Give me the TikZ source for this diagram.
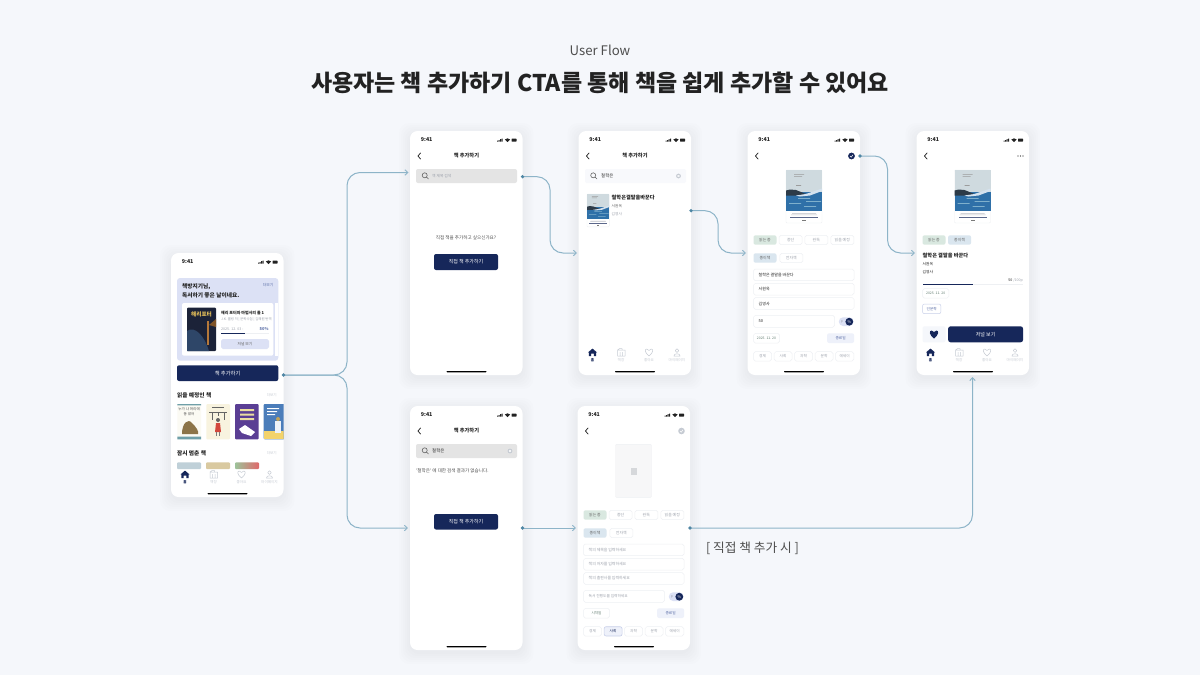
\documentclass[tikz,border=0pt]{standalone}
\usepackage{fontspec}
\setmainfont{Noto Sans CJK KR}
\usetikzlibrary{arrows.meta,calc}
\definecolor{bgc}{HTML}{F5F7FB}
\definecolor{navy}{HTML}{16275A}
\definecolor{ink}{HTML}{222222}
\definecolor{flowc}{HTML}{8DB4C8}
\definecolor{dotc}{HTML}{4F86A4}
\definecolor{mute}{HTML}{9EA3AD}
\definecolor{soft}{HTML}{C6CBD3}
\definecolor{peri}{HTML}{DCE1F5}
\definecolor{chipg}{HTML}{D9E8E0}
\definecolor{chipb}{HTML}{DAE6EF}
\definecolor{edgec}{HTML}{EEF0F3}
\definecolor{bluet}{HTML}{5C6FA8}
\definecolor{CoverSky}{HTML}{CFDADF}
\definecolor{CoverSea}{HTML}{2F70A8}
\definecolor{CoverDark}{HTML}{2D3B48}
\definecolor{CoverLight}{HTML}{7FB0CC}
\definecolor{datec}{HTML}{5E7A6E}
\definecolor{endfill}{HTML}{EEF1FA}
\definecolor{HarryD}{HTML}{1B2238}
\definecolor{HarryB}{HTML}{2E4668}
\definecolor{HarryO}{HTML}{B5783A}
\definecolor{HarryY}{HTML}{E8C25A}
\definecolor{Cream1}{HTML}{FBFAF3}
\definecolor{Teal1}{HTML}{6F9FA8}
\definecolor{Brown1}{HTML}{8C7448}
\definecolor{Cream2}{HTML}{F8F3DF}
\definecolor{Red2}{HTML}{D2473C}
\definecolor{Purple3}{HTML}{5A3E94}
\definecolor{Yellow3}{HTML}{EBDDA0}
\definecolor{Blue4}{HTML}{4B7DBA}
\definecolor{Yellow4}{HTML}{F3D36B}
\definecolor{Pale1}{HTML}{BFD0D8}
\definecolor{Pale2}{HTML}{D9C9A0}
\definecolor{Pale3a}{HTML}{9CC39A}
\definecolor{Pale3b}{HTML}{E0686A}
\definecolor{SearchG}{HTML}{E4E4E4}
\definecolor{CoverBlank}{HTML}{F7F7F8}
\tikzset{
  x=1pt,y=-1pt,
  card/.style={draw=none,fill=white,rounded corners=7.5pt,minimum width=112.5pt,minimum height=244pt,inner sep=0pt,outer sep=0pt,anchor=north west},
  flow/.style={draw=flowc,line width=1pt,rounded corners=13pt},
  flowa/.style={flow,-{Straight Barb[length=3pt,width=5.5pt,line width=.9pt]}},
  box/.style={fill=white,draw=edgec,line width=.5pt,rounded corners=1.8pt},
  icon/.style={draw=soft,line width=.5pt,line join=round},
}
\newcounter{tc}
% x y size colour anchor text
\newcommand{\tx}[6]{\stepcounter{tc}\node[inner sep=0pt,anchor=#5,text=#4,font=\fontsize{#3}{#3}\selectfont] (t\arabic{tc}) at (#1,#2) {#6};}
% x1 y1 x2 y2 style textcolour size text
\newcommand{\chipbox}[8]{\stepcounter{tc}\path[#5] (#1,#2) rectangle (#3,#4);\node[inner sep=0pt,text=#6,font=\fontsize{#7}{#7}\selectfont] (t\arabic{tc}) at ({(#1+#3)/2},{(#2+#4)/2}) {#8};}
\newcommand{\phone}[3]{%
  \foreach \e in {11,9,7,5,3,1}{\fill[black!60!blue,opacity=.006,rounded corners=10pt] ({#2-\e},{#3-\e+3}) rectangle ({#2+112.5+\e},{#3+244+\e+3});}
  \node[card] (#1) at (#2,#3) {};}
\newcommand{\statusbar}{%
  \tx{16.7}{9}{5.3}{ink}{center}{\bfseries 9:41}
  \fill[ink] (87,10.7) rectangle (88,9.7) (88.5,10.7) rectangle (89.5,9) (90,10.7) rectangle (91,8.2) (91.5,10.7) rectangle (92.5,7.5);
  \fill[ink] (97.5,11) -- (94.8,8.5) .. controls (96.4,7) and (98.6,7) .. (100.2,8.5) -- cycle;
  \fill[ink,rounded corners=.5pt] (101.5,7.6) rectangle (106.5,10.6);}
\newcommand{\backbtn}{\draw[ink,line width=.75pt,line cap=round,line join=round] (10.5,22) -- (8,25) -- (10.5,28);}
\newcommand{\homebar}{\fill[black,rounded corners=.6pt] (36.5,240) rectangle (76.5,241.3);}
\newcommand{\tabbar}{%
  \fill[navy] (14,217.6) -- (18.5,221.4) -- (17.6,221.4) -- (17.6,225) -- (15.4,225) -- (15.4,222.6) -- (12.6,222.6) -- (12.6,225) -- (10.4,225) -- (10.4,221.4) -- (9.5,221.4) -- cycle;
  \tx{14}{229.3}{3.6}{navy}{center}{\bfseries 홈}
  \draw[icon] (39,219) rectangle (46.5,225) (39,219) -- (41,217.6) -- (43.5,217.6) -- (43.5,219) (41.5,221) -- (41.5,225) (44,221) -- (44,225);
  \tx{42.5}{229.3}{3.6}{soft}{center}{책장}
  \draw[icon] (70.5,225) .. controls (66,221.5) and (66,218) .. (68.3,218) .. controls (69.4,218) and (70.2,218.8) .. (70.5,219.5) .. controls (70.8,218.8) and (71.6,218) .. (72.7,218) .. controls (75,218) and (75,221.5) .. (70.5,225) -- cycle;
  \tx{70.5}{229.3}{3.6}{soft}{center}{좋아요}
  \draw[icon] (98.5,219.6) circle[radius=1.8] (95.4,225) .. controls (95.4,222) and (101.6,222) .. (101.6,225) -- cycle;
  \tx{98.5}{229.3}{3.6}{soft}{center}{마이페이지}}
\newcommand{\searchhead}{\tx{56.5}{25}{5.2}{ink}{center}{\bfseries 책 추가하기}}
\newcommand{\magn}{\draw[ink!70,line width=.6pt] (14.7,44.3) circle[radius=2.5] (16.6,46.2) -- (18.5,48);}
\newcommand{\clearx}{\fill[soft] (100,45) circle[radius=2.4];\draw[white,line width=.4pt] (99,44) -- (101,46) (101,44) -- (99,46);}
\newcommand{\seacover}[3]{\begin{scope}[shift={(#1,#2)},scale=#3]
  \fill[white,draw=edgec,line width=.4pt,rounded corners=1pt] (0,0) rectangle (36,53);
  \fill[CoverSky] (0,0) rectangle (36,21.5);
  \fill[CoverSea] (0,21.5) rectangle (36,41);
  \fill[CoverDark] (0,20.5) -- (4,19.5) -- (10,20) -- (15,22) -- (20,24) -- (12,25.5) -- (0,25.5) -- cycle;
  \fill[white!80!CoverSea] (10,25.5) -- (20,24) -- (36,18.5) -- (36,21) -- (24,25.5) -- (14,26.5) -- cycle;
  \fill[CoverLight] (12,28) rectangle (24,28.8) (20,31) rectangle (35,31.8) (3,33) rectangle (15,33.8) (18,36) rectangle (30,36.8);
  \fill[ink!45] (8,4) rectangle (18,4.5) (8,6) rectangle (16,6.5) (10,15) rectangle (15,15.8);
  \fill[mute!70] (6,43.2) rectangle (30,43.7) (5,44.6) rectangle (31,45.1);
  \fill[navy!70] (4,46.5) rectangle (32,47);
  \fill[ink!60] (16,50) rectangle (20,50.5);
 \end{scope}}
\newcommand{\formchips}{%
  \chipbox{6}{104.3}{29}{113.7}{fill=chipg,rounded corners=2pt}{ink!70}{3.9}{읽는 중}
  \chipbox{31.6}{104.3}{54.6}{113.7}{box}{mute}{3.9}{중단}
  \chipbox{57.3}{104.3}{80.3}{113.7}{box}{mute}{3.9}{완독}
  \chipbox{83.3}{104.3}{106.3}{113.7}{box}{mute}{3.9}{읽을 예정}
  \chipbox{6}{122.3}{29}{131.7}{fill=chipb,rounded corners=2pt}{ink!70}{3.9}{종이책}
  \chipbox{32.3}{122.3}{55.3}{131.7}{box}{mute}{3.9}{전자책}
  \path[box] (6,138) rectangle (106.6,149.7) (6,152.3) rectangle (106.6,164) (6,166.7) rectangle (106.6,178.3) (6,184.3) rectangle (87,196.3);
  \fill[peri,rounded corners=4.3pt] (91.3,186.3) rectangle (106,195);
  \tx{94.3}{190.7}{3.4}{mute}{center}{p}
  \fill[navy] (101.8,190.7) circle[radius=3.9];
  \tx{101.8}{190.7}{3.8}{white}{center}{\%}
  \chipbox{79.6}{202.3}{106.6}{212}{fill=endfill,rounded corners=2pt}{bluet}{3.7}{종료일}}
\begin{document}
\begin{tikzpicture}
\useasboundingbox (0,0) rectangle (1200,675);
\fill[bgc] (0,0) rectangle (1200,675);
\tx{600}{50}{13.2}{ink!80}{center}{User Flow}
\tx{600}{83}{23}{ink}{center}{\bfseries 사용자는 책 추가하기 CTA를 통해 책을 쉽게 추가할 수 있어요}
\tx{752.5}{548}{12.7}{ink!80}{center}{[ 직접 책 추가 시 ]}

% ---------- cards
\phone{home}{171}{253}
\phone{s2}{410}{131}
\phone{s3}{578.5}{131}
\phone{s4}{747.5}{131}
\phone{s5}{916.5}{131}
\phone{l2}{410}{406}
\phone{l3}{577.5}{406}

% ---------- home
\begin{scope}[shift={(171,253)}]
\statusbar \homebar
\fill[peri,rounded corners=3pt] (6,25) rectangle (107.3,107.7);
\tx{11}{34}{5.7}{ink}{west}{\bfseries 책방지기님,}
\tx{11}{42.5}{5.7}{ink}{west}{\bfseries 독서하기 좋은 날이네요.}
\tx{97}{32}{3.8}{bluet}{center}{더보기}
\fill[white,rounded corners=2pt] (11,50) rectangle (102.3,102.7);
\fill[white] (104,50) rectangle (107.3,102.7);
\fill[HarryD,rounded corners=1pt] (16,54.7) rectangle (45,98);
\fill[HarryB] (16,78) .. controls (24,72) and (34,84) .. (38,98) -- (16,98) -- cycle;
\fill[HarryO] (36,68) rectangle (38,92);
\fill[HarryO!70!black] (38,72) -- (45,66) -- (45,74) -- cycle;
\tx{30.5}{61}{5.6}{HarryY}{center}{\bfseries 해리포터}
\tx{50}{60}{4}{ink}{west}{\bfseries 해리 포터와 마법사의 돌 1}
\tx{50}{67}{3.4}{mute}{west}{J.K. 롤링 저 | 문학수첩 | 김혜원 번역}
\tx{50}{76.5}{3.6}{mute}{west}{2025. 12. 03 -}
\tx{97.7}{76.5}{4}{bluet}{east}{\bfseries 50\%}
\fill[edgec] (50,80.2) rectangle (97.7,81);
\fill[navy] (50,80.2) rectangle (74,81);
\chipbox{50}{86}{98}{96}{fill=peri,rounded corners=1.8pt}{ink!70}{3.8}{저널 보기}
\chipbox{6}{112.3}{107.3}{128}{fill=navy,rounded corners=2pt}{white}{5.3}{책 추가하기}
\tx{6}{142}{5.7}{ink}{west}{\bfseries 읽을 예정인 책}
\tx{106}{141.7}{3.6}{soft}{east}{더보기}
\fill[Cream1,rounded corners=1pt] (6.3,151) rectangle (30,186.3);
\fill[Teal1] (6.3,151) rectangle (30,152.4) (6.3,183.5) rectangle (30,186.3);
\tx{18.1}{156}{3.6}{ink!80}{center}{누가 나 머리에}
\tx{18.1}{161}{3.6}{ink!80}{center}{똥 쌌어}
\fill[Brown1] (11,181) .. controls (11,170) and (17,165) .. (21,170) .. controls (25,174) and (28,178) .. (27,181) -- cycle;
\fill[Cream2,rounded corners=1pt] (35.3,151) rectangle (59,186.3);
\fill[ink!70] (41,153.5) rectangle (53,155);
\draw[ink!70,line width=.5pt] (38,159) -- (56,159) (41,159) -- (41,167) (47,159) -- (47,163) (53,159) -- (53,167);
\fill[Red2] (45,170) -- (49,170) -- (50,179) -- (44,179) -- cycle;
\fill[ink!70] (47,167) circle[radius=2];
\draw[ink!60,line width=.5pt] (45.5,179) -- (45.5,183) (48.5,179) -- (48.5,183);
\fill[Purple3,rounded corners=1pt] (64,151) rectangle (87.7,186.3);
\fill[Yellow3] (69,156) rectangle (83,158.2) (69,160.5) rectangle (83,162.7) (69,165) rectangle (83,167.2);
\fill[white] (68,176) -- (74,172) -- (84,179) -- (80,183) -- (71,180) -- cycle;
\begin{scope}
\clip (92.7,151) rectangle (112.5,186.3);
\fill[Blue4,rounded corners=1pt] (92.7,151) rectangle (118,186.3);
\fill[Yellow4] (92.7,178) rectangle (118,186.3);
\fill[white] (96,155) rectangle (108,156.2) (96,158) rectangle (106,159.2) (96,161) rectangle (104,162.2);
\fill[white!90!Blue4] (104,168) rectangle (110,180);
\fill[Yellow4!50!Brown1] (107,166) circle[radius=2];
\end{scope}
\tx{6}{200}{5.7}{ink}{west}{\bfseries 잠시 멈춘 책}
\tx{106}{199.7}{3.6}{soft}{east}{더보기}
\fill[Pale1,rounded corners=1pt] (6,209.3) rectangle (30,216);
\fill[Pale2,rounded corners=1pt] (35,209.3) rectangle (59,216);
\shade[left color=Pale3a,right color=Pale3b,rounded corners=1pt] (64,209.3) rectangle (88,216);
\tabbar
\end{scope}

% ---------- add book, empty
\begin{scope}[shift={(410,131)}]
\statusbar \backbtn \searchhead \homebar
\path[fill=SearchG,rounded corners=2pt] (6,38) rectangle (107,52);
\magn
\tx{22}{45}{3.8}{mute}{west}{책 제목 검색}
\tx{56}{107}{4.6}{ink!80}{center}{직접 책을 추가하고 싶으신가요?}
\chipbox{24}{123}{88}{139}{fill=navy,rounded corners=2pt}{white}{5}{직접 책 추가하기}
\end{scope}

% ---------- search results
\begin{scope}[shift={(578.5,131)}]
\statusbar \backbtn \searchhead \tabbar \homebar
\path[fill=bgc!70!white,rounded corners=2pt] (6.5,38) rectangle (107.5,52);
\magn
\tx{22.5}{45}{4.4}{ink}{west}{철학은}
\clearx
\seacover{8.5}{63}{.62}
\tx{33}{67}{5.2}{ink}{west}{\bfseries 철학은결말을바꾼다}
\tx{33}{75}{3.7}{ink!70}{west}{서원옥}
\tx{33}{83}{3.7}{mute}{west}{김영사}
\end{scope}

% ---------- edit form
\begin{scope}[shift={(747.5,131)}]
\statusbar \backbtn \homebar
\fill[navy] (104,25) circle[radius=3.4];
\draw[white,line width=.5pt] (102.6,25) -- (103.7,26.2) -- (105.5,23.8);
\seacover{38.5}{39}{1}
\formchips
\tx{11}{143.8}{4}{ink}{west}{철학은 결말을 바꾼다}
\tx{11}{158.1}{4}{ink}{west}{서원옥}
\tx{11}{172.5}{4}{ink}{west}{김영사}
\tx{11}{190.3}{4}{ink}{west}{50}
\chipbox{6}{202.3}{32}{212}{box}{datec}{3.4}{2025. 11. 20}
\chipbox{6}{220.7}{24}{230}{box}{mute}{3.7}{경제}
\chipbox{26.6}{220.7}{44.6}{230}{box}{mute}{3.7}{사회}
\chipbox{47}{220.7}{65}{230}{box}{mute}{3.7}{과학}
\chipbox{67.6}{220.7}{85.6}{230}{box}{mute}{3.7}{문학}
\chipbox{88}{220.7}{106.3}{230}{box}{mute}{3.7}{에세이}
\end{scope}

% ---------- detail
\begin{scope}[shift={(916.5,131)}]
\statusbar \backbtn \tabbar \homebar
\fill[ink] (101.5,25) circle[radius=.7] (104,25) circle[radius=.7] (106.5,25) circle[radius=.7];
\seacover{38}{39}{1}
\chipbox{6}{104.3}{29}{113.7}{fill=chipg,rounded corners=2pt}{ink!70}{3.9}{읽는 중}
\chipbox{31.6}{104.3}{54.6}{113.7}{fill=chipb,rounded corners=2pt}{ink!70}{3.9}{종이책}
\tx{6}{125}{5.2}{ink}{west}{\bfseries 철학은 결말을 바꾼다}
\tx{6}{133}{3.8}{ink}{west}{서원옥}
\tx{6}{141}{3.8}{ink}{west}{김영사}
\tx{106.6}{149}{3.6}{mute}{east}{\textcolor{ink}{50} /100p}
\fill[edgec] (6,152.8) rectangle (106.6,153.7);
\fill[navy] (6,152.8) rectangle (56,153.7);
\chipbox{6}{157.7}{32.4}{167}{box}{datec}{3.4}{2025. 11. 20}
\chipbox{6}{173}{24.4}{182.7}{fill=white,draw=peri!85!bluet,line width=.5pt,rounded corners=2pt}{bluet}{3.7}{인문학}
\path[fill=bgc,rounded corners=2pt] (6,195.3) rectangle (29,211.3);
\fill[navy] (17.5,207.5) .. controls (12.5,204) and (12.5,199.5) .. (15,199.5) .. controls (16.2,199.5) and (17,200.3) .. (17.5,201) .. controls (18,200.3) and (18.8,199.5) .. (20,199.5) .. controls (22.5,199.5) and (22.5,204) .. (17.5,207.5) -- cycle;
\chipbox{31.6}{195.3}{106.6}{211.3}{fill=navy,rounded corners=2.5pt}{white}{5}{저널 보기}
\end{scope}

% ---------- no results
\begin{scope}[shift={(410,406)}]
\statusbar \backbtn \searchhead \homebar
\path[fill=SearchG,rounded corners=2pt] (6,38) rectangle (107,52);
\magn
\tx{22}{45}{4.4}{ink}{west}{철학은}
\clearx
\tx{6}{65}{4.6}{ink!80}{west}{`철학은' 에 대한 검색 결과가 없습니다.}
\chipbox{24}{108}{88}{123.5}{fill=navy,rounded corners=2pt}{white}{5}{직접 책 추가하기}
\end{scope}

% ---------- manual form
\begin{scope}[shift={(577.5,406)}]
\statusbar \backbtn \homebar
\fill[soft] (104,25) circle[radius=3.3];
\draw[white,line width=.5pt] (102.6,25) -- (103.7,26.2) -- (105.5,23.8);
\fill[CoverBlank,draw=edgec,line width=.4pt,rounded corners=1pt] (38,38.3) rectangle (74,91.3);
\fill[edgec!90!black] (53,61.5) rectangle (59,68.5);
\formchips
\tx{11}{143.8}{3.9}{mute}{west}{책의 제목을 입력하세요}
\tx{11}{158.1}{3.9}{mute}{west}{책의 저자를 입력하세요}
\tx{11}{172.5}{3.9}{mute}{west}{책의 출판사를 입력하세요}
\tx{11}{190.3}{3.7}{mute}{west}{독서 진행도를 입력하세요}
\chipbox{6}{202.3}{32}{212}{box}{datec}{3.6}{시작일}
\chipbox{6}{220.7}{24}{230}{box}{mute}{3.7}{경제}
\chipbox{26.6}{220.7}{44.6}{230}{fill=endfill,draw=peri!85!bluet,line width=.6pt,rounded corners=2pt}{navy}{3.7}{사회}
\chipbox{47}{220.7}{65}{230}{box}{mute}{3.7}{과학}
\chipbox{67.6}{220.7}{85.6}{230}{box}{mute}{3.7}{문학}
\chipbox{88}{220.7}{106.3}{230}{box}{mute}{3.7}{에세이}
\end{scope}

% ---------- connector ends
\coordinate (busA) at (347,375);
\coordinate (busB) at (550,253);
\coordinate (busC) at (718,253);
\coordinate (busD) at (887.5,253);
\coordinate (s2in) at (408.5,172.5);
\coordinate (s3in) at (577,253);
\coordinate (s4in) at (746,253);
\coordinate (s5in) at (915,253);
\coordinate (l2in) at (408,528);
\coordinate (l3in) at (576,528);
\coordinate (s5up) at (972.5,377);
\coordinate (s2out) at (522.5,176.7);
\coordinate (s3out) at (691,210.7);
\coordinate (s4out) at (860,156);
\coordinate (l2out) at (522.5,528);
\coordinate (l3out) at (690,528);

\draw[flowa] (home.east) -| (busA |- s2in) -- (s2in);
\draw[flowa] (home.east) -| (busA |- l2in) -- (l2in);
\draw[flowa] (s2out) -| (busB) -- (s3in);
\draw[flowa] (s3out) -| (busC) -- (s4in);
\draw[flowa] (s4out) -| (busD) -- (s5in);
\draw[flowa] (l2out) -- (l3in);
\draw[flowa] (l3out) -| (s5up);
\foreach \p in {home.east,s2out,s3out,s4out,l2out,l3out}{\fill[dotc] (\p) circle[radius=1.8];}
\end{tikzpicture}
\end{document}
